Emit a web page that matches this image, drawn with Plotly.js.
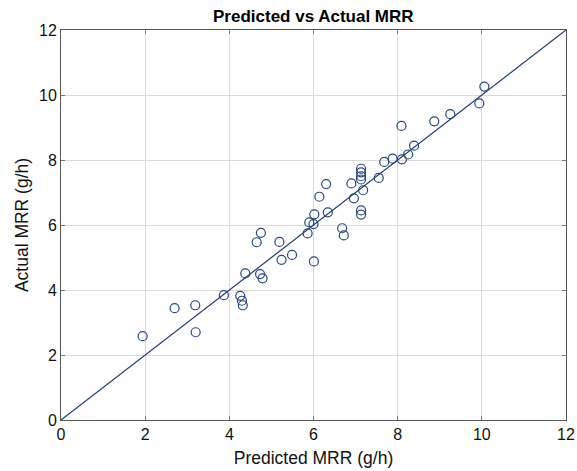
<!DOCTYPE html>
<html>
<head>
<meta charset="utf-8">
<script src="https://cdn.plot.ly/plotly-3.0.1.min.js"></script>
<style>html,body{margin:0;padding:0;background:#fff;}#chart{width:577px;height:471px;}</style>
</head>
<body>
<div id="chart"></div>
<script>
var predicted = [1.94, 2.70, 3.19, 3.20, 3.87, 4.26, 4.30, 4.32, 4.38, 4.73, 4.79, 4.65, 4.75, 5.19, 5.24, 5.49, 6.01, 5.86, 5.90, 6.00, 6.02, 6.14, 6.30, 6.34, 6.68, 6.72, 6.90, 6.96, 7.13, 7.13, 7.13, 7.13, 7.18, 7.13, 7.13, 7.55, 7.68, 7.88, 8.10, 8.25, 8.39, 8.09, 8.87, 9.25, 9.94, 10.06];
var actual = [2.58, 3.44, 3.53, 2.70, 3.84, 3.82, 3.67, 3.53, 4.51, 4.49, 4.36, 5.47, 5.76, 5.48, 4.93, 5.08, 4.88, 5.74, 6.08, 6.03, 6.33, 6.87, 7.26, 6.39, 5.90, 5.68, 7.28, 6.82, 7.73, 7.62, 7.50, 7.40, 7.07, 6.45, 6.32, 7.45, 7.94, 8.04, 8.02, 8.17, 8.44, 9.05, 9.19, 9.41, 9.74, 10.26];
var lineX = [0, 12];
var lineY = [0, 12];
var xTicks = [0, 2, 4, 6, 8, 10, 12];
var yTicks = [0, 2, 4, 6, 8, 10, 12];

var font = 'Arial, "Liberation Sans", sans-serif';
var traces = [
  {x: lineX, y: lineY, mode: 'lines', type: 'scatter', line: {color: '#1f3a6e', width: 1.2}, hoverinfo: 'skip'},
  {x: predicted, y: actual, mode: 'markers', type: 'scatter',
   marker: {symbol: 'circle-open', size: 9, color: '#24477f', line: {width: 1.2, color: '#24477f'}}}
];
var axisCommon = {
  range: [0, 12], showgrid: true, gridcolor: '#d9d9d9', gridwidth: 1,
  zeroline: false, showline: true, linecolor: '#555', linewidth: 1, mirror: 'allticks',
  ticks: 'inside', ticklen: 4, tickcolor: '#777', tickfont: {family: font, size: 16, color: '#111'}
};
var layout = {
  width: 577, height: 471,
  margin: {l: 61, r: 11, t: 30, b: 51},
  paper_bgcolor: '#fff', plot_bgcolor: '#fff',
  showlegend: false,
  title: {text: '<b>Predicted vs Actual MRR</b>', font: {family: font, size: 17, color: '#000'}, x: 0.543, xanchor: 'center', y: 0.966, yanchor: 'middle'},
  xaxis: Object.assign({}, axisCommon, {tickvals: xTicks, ticktext: xTicks.map(String),
    title: {text: 'Predicted MRR (g/h)', font: {family: font, size: 17.5, color: '#111'}, standoff: 9}}),
  yaxis: Object.assign({}, axisCommon, {tickvals: yTicks, ticktext: yTicks.map(String),
    title: {text: 'Actual MRR (g/h)', font: {family: font, size: 17.5, color: '#111'}, standoff: 5}})
};
Plotly.newPlot('chart', traces, layout, {displayModeBar: false, staticPlot: true});
</script>
</body>
</html>
